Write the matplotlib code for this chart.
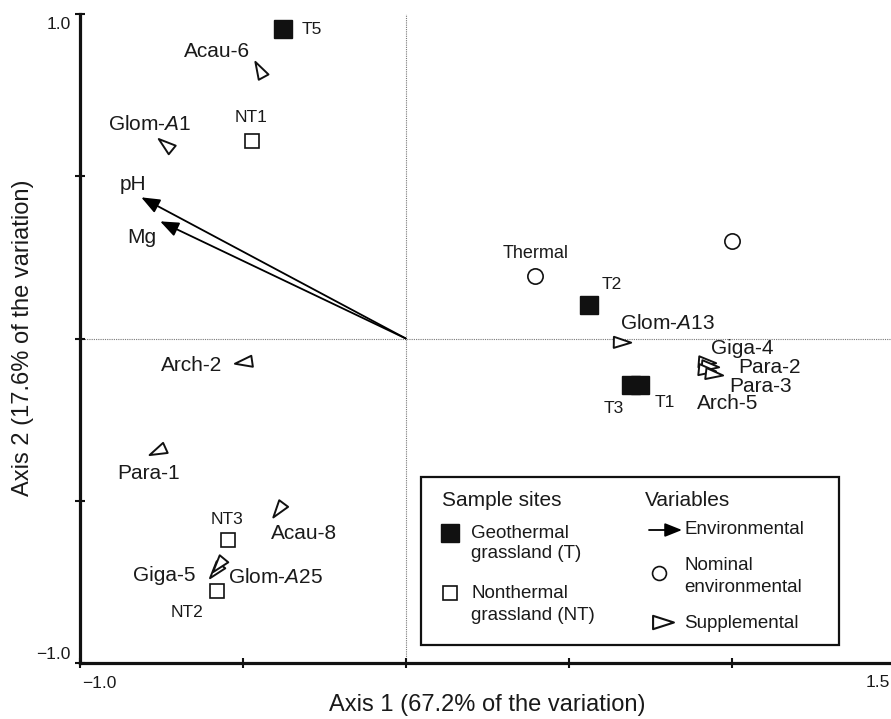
import numpy as np
import matplotlib
matplotlib.use('Agg')
import matplotlib.pyplot as plt
from matplotlib.path import Path
from matplotlib.markers import MarkerStyle
from matplotlib.transforms import Affine2D
from matplotlib.patches import Rectangle, FancyArrowPatch
from matplotlib.lines import Line2D

plt.rcParams['font.family'] = ['Liberation Sans', 'DejaVu Sans']
plt.rcParams['mathtext.fontset'] = 'custom'
plt.rcParams['mathtext.rm'] = 'Liberation Sans'
plt.rcParams['mathtext.it'] = 'Liberation Sans:italic'

# ---------------- data (ordination scores) ----------------
geo_sites = ['T5', 'T2', 'T3', 'T1']
geo_x = [-0.378, 0.562, 0.691, 0.719]
geo_y = [0.953, 0.103, -0.143, -0.143]

nt_sites = ['NT1', 'NT3', 'NT2']
nt_x = [-0.472, -0.547, -0.581]
nt_y = [0.609, -0.621, -0.778]

nominal_names = ['Thermal', '']
nominal_x = [0.397, 1.000]
nominal_y = [0.194, 0.299]

env_names = ['pH', 'Mg']
env_x = [-0.812, -0.754]
env_y = [0.435, 0.361]

supp_names = ['Acau-6', 'Glom-$\\mathit{A}$1', 'Arch-2', 'Para-1', 'Acau-8',
              'Giga-5', 'Glom-$\\mathit{A}$25', 'Glom-$\\mathit{A}$13',
              'Giga-4', 'Para-2', 'Arch-5', 'Para-3']
supp_x = [-0.450, -0.738, -0.501, -0.764, -0.393, -0.586, -0.575, 0.663,
          0.926, 0.935, 0.923, 0.945]
supp_y = [0.830, 0.599, -0.072, -0.347, -0.527, -0.716, -0.698, -0.012,
          -0.071, -0.086, -0.096, -0.108]

x_label = 'Axis 1 (67.2% of the variation)'
y_label = 'Axis 2 (17.6% of the variation)'

# ---------------- label offsets (points) : styling ----------------
geo_off = [(21.2, -0.3), (16.2, 14.8), (-12.7, -17.3), (17.7, -12.5)]
nt_off = [(-0.5, 16.7), (-0.3, 15.0), (-20.9, -15.6)]
nom_off = [(0.2, 15.6), (0, 0)]
env_off = [(-5.8, 9.4), (-13.5, -11.9)]
supp_off = [(-30.2, 12.8), (-11.4, 14.2), (-36.9, -2.3), (-6.2, -16.0),
            (19.2, -17.0), (-36.6, -3.0), (41.4, -8.8), (33.2, 13.8),
            (24.8, 9.6), (42.8, -0.6), (15.0, -24.6), (33.5, -9.4)]

W, H = 891, 719
fig = plt.figure(figsize=(W / 100, H / 100), dpi=100)


def P(x, y):
    return (x / W, 1 - y / H)


ax = fig.add_axes([80 / W, (H - 663) / H, 814.5 / W, 649 / H])
ax.set_xlim(-1.0, 1.5)
ax.set_ylim(-1.0, 1.0)
for s in ['top', 'right']:
    ax.spines[s].set_visible(False)
for s in ['left', 'bottom']:
    ax.spines[s].set_linewidth(2.3)
    ax.spines[s].set_color('#111111')
ax.set_xticks([-1.0, -0.5, 0.0, 0.5, 1.0, 1.5])
ax.set_yticks([-1.0, -0.5, 0.0, 0.5, 1.0])
ax.set_xticklabels([])
ax.set_yticklabels([])
ax.tick_params(direction='inout', length=6.5, width=1.5, color='#111111')

TXT = '#1a1a1a'
# tick labels
ax.annotate('1.0', (-1.0, 1.0), xytext=(-6.5, -11.0), textcoords='offset points',
            ha='right', va='baseline', fontsize=12.5, color=TXT, annotation_clip=False)
ax.annotate('\u22121.0', (-1.0, -1.0), xytext=(-6.5, 3.0), textcoords='offset points',
            ha='right', va='baseline', fontsize=12.5, color=TXT, annotation_clip=False)
ax.annotate('\u22121.0', (-1.0, -1.0), xytext=(1.2, -18.0), textcoords='offset points',
            ha='left', va='baseline', fontsize=12.5, color=TXT, annotation_clip=False)
ax.annotate('1.5', (1.5, -1.0), xytext=(-3.2, -17.0), textcoords='offset points',
            ha='right', va='baseline', fontsize=12.5, color=TXT, annotation_clip=False)

# reference dotted lines through origin
ax.axvline(0, color='#777777', lw=0.8, ls=(0, (1, 1)), zorder=1)
ax.axhline(0, color='#777777', lw=0.8, ls=(0, (1, 1)), zorder=1)

# environmental arrows
for name, x, y, off in zip(env_names, env_x, env_y, env_off):
    ax.annotate('', xy=(x, y), xytext=(0, 0),
                arrowprops=dict(arrowstyle='-|>,head_length=0.8,head_width=0.32',
                                lw=1.3, color='black', mutation_scale=14,
                                shrinkA=0, shrinkB=0), zorder=3)
    ax.annotate(name, (x, y), xytext=off, textcoords='offset points',
                ha='center', va='center', fontsize=15, color=TXT)

# triangle marker (arrow tip shape) pointing right
tri = Path([(0.5, 0.0), (-0.5, 0.32), (-0.5, -0.32), (0.5, 0.0)],
           [Path.MOVETO, Path.LINETO, Path.LINETO, Path.CLOSEPOLY])

for name, x, y, off in zip(supp_names, supp_x, supp_y, supp_off):
    ang = np.degrees(np.arctan2(y, x))
    m = MarkerStyle(tri, transform=Affine2D().rotate_deg(ang))
    ax.plot([x], [y], ls='none', marker=m, ms=12.5, mfc='white',
            mec='#111111', mew=1.4, zorder=4)
    ax.annotate(name, (x, y), xytext=off, textcoords='offset points',
                ha='center', va='center', fontsize=15, color=TXT, zorder=6)

# sites
ax.plot(geo_x, geo_y, ls='none', marker='s', ms=13.5, mfc='#111111',
        mec='#111111', mew=1.0, zorder=5)
for name, x, y, off in zip(geo_sites, geo_x, geo_y, geo_off):
    ax.annotate(name, (x, y), xytext=off, textcoords='offset points',
                ha='center', va='center', fontsize=12.5, color=TXT)

ax.plot(nt_x, nt_y, ls='none', marker='s', ms=10.5, mfc='white',
        mec='#111111', mew=1.2, zorder=5)
for name, x, y, off in zip(nt_sites, nt_x, nt_y, nt_off):
    ax.annotate(name, (x, y), xytext=off, textcoords='offset points',
                ha='center', va='center', fontsize=12.5, color=TXT)

# nominal environmental variables
ax.plot(nominal_x, nominal_y, ls='none', marker='o', ms=11, mfc='white',
        mec='#111111', mew=1.2, zorder=5)
for name, x, y, off in zip(nominal_names, nominal_x, nominal_y, nom_off):
    if name:
        ax.annotate(name, (x, y), xytext=off, textcoords='offset points',
                    ha='center', va='center', fontsize=13, color=TXT)

# axis titles
fig.text(*P(487, 705), x_label, ha='center', va='center', fontsize=17, color=TXT)
fig.text(*P(23, 338), y_label, ha='center', va='center', fontsize=17,
         rotation=90, color=TXT)

# ---------------- legend ----------------
x0, y0 = P(421, 645)
x1, y1 = P(839, 477)
fig.add_artist(Rectangle((x0, y0), x1 - x0, y1 - y0, transform=fig.transFigure,
                         facecolor='white', edgecolor='#111111', lw=1.6, zorder=10))
fig.text(*P(442, 500), 'Sample sites', ha='left', va='center', fontsize=15,
         color=TXT, zorder=11)
fig.text(*P(645, 500), 'Variables', ha='left', va='center', fontsize=15,
         color=TXT, zorder=11)

fig.add_artist(Line2D([P(450, 533)[0]], [P(450, 533)[1]], transform=fig.transFigure,
                      ls='none', marker='s', ms=13, mfc='#111111', mec='#111111',
                      zorder=11))
fig.text(*P(471, 533), 'Geothermal', ha='left', va='center', fontsize=13.5,
         color=TXT, zorder=11)
fig.text(*P(471, 554), 'grassland (T)', ha='left', va='center', fontsize=13.5,
         color=TXT, zorder=11)

fig.add_artist(Line2D([P(450, 593)[0]], [P(450, 593)[1]], transform=fig.transFigure,
                      ls='none', marker='s', ms=10.5, mfc='white', mec='#111111',
                      mew=1.2, zorder=11))
fig.text(*P(471, 593), 'Nonthermal', ha='left', va='center', fontsize=13.5,
         color=TXT, zorder=11)
fig.text(*P(471, 615), 'grassland (NT)', ha='left', va='center', fontsize=13.5,
         color=TXT, zorder=11)

fig.add_artist(FancyArrowPatch(P(649, 530), P(682, 530), transform=fig.transFigure,
                               arrowstyle='-|>,head_length=0.8,head_width=0.32',
                               mutation_scale=13, lw=1.3, color='black',
                               shrinkA=0, shrinkB=0, zorder=11))
fig.text(*P(684, 530), 'Environmental', ha='left', va='center', fontsize=13.5,
         color=TXT, zorder=11)

fig.add_artist(Line2D([P(659, 573)[0]], [P(659, 573)[1]], transform=fig.transFigure,
                      ls='none', marker='o', ms=10, mfc='white', mec='#111111',
                      mew=1.2, zorder=11))
fig.text(*P(684, 566), 'Nominal', ha='left', va='center', fontsize=13.5,
         color=TXT, zorder=11)
fig.text(*P(684, 587), 'environmental', ha='left', va='center', fontsize=13.5,
         color=TXT, zorder=11)

fig.add_artist(Line2D([P(663, 622)[0]], [P(663, 622)[1]], transform=fig.transFigure,
                      ls='none', marker=MarkerStyle(tri), ms=15, mfc='white',
                      mec='#111111', mew=1.5, zorder=11))
fig.text(*P(684, 623), 'Supplemental', ha='left', va='center', fontsize=13.5,
         color=TXT, zorder=11)

fig.savefig('out.png', dpi=100, facecolor='white')
